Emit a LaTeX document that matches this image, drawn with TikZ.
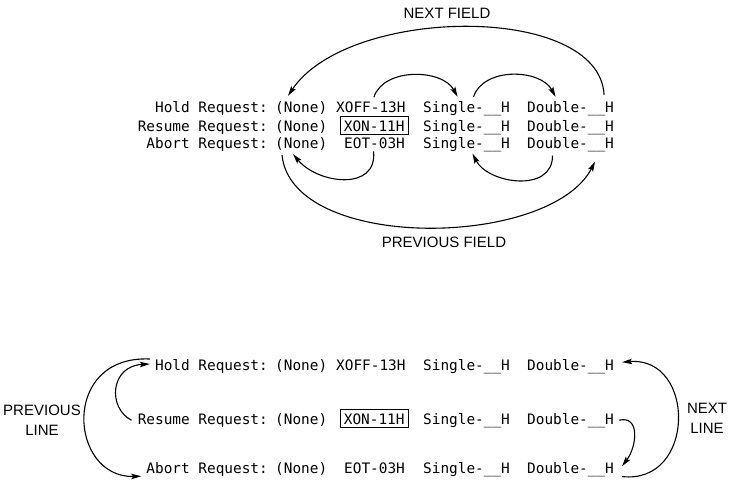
\documentclass[tikz,border=0pt]{standalone}
\usepackage{fontspec}
\setmonofont{DejaVu Sans Mono}
\setsansfont{Liberation Sans}
\usetikzlibrary{arrows.meta,calc}

\tikzset{
	field/.style={font=\ttfamily\fontsize{14.4}{17}\selectfont, inner sep=0pt, anchor=base west},
	request/.style={field, anchor=base east},
	chosen/.style={draw, line width=0.8pt, inner xsep=3.5pt, inner ysep=3.5pt},
	caption/.style={font=\sffamily\fontsize{15}{20}\selectfont, align=center, inner sep=0pt},
	arrow/.style={-{Stealth[length=10pt,width=5.5pt,inset=2pt]}, line width=1.1pt}
}

\begin{document}
\begin{tikzpicture}[x=1pt, y=-1pt]
\useasboundingbox (0,0) rectangle (732,485);

% the three request lines, once above and once below
\foreach \b/\ya/\yb/\yc in {t/112/131/148, b/370/424/473} {
	\node[request] (\b-name1) at (268,\ya) {Hold Request:};
	\node[request] (\b-name2) at (268,\yb) {Resume Request:};
	\node[request] (\b-name3) at (268,\yc) {Abort Request:};

	\node[field] (\b-none1) at (275,\ya) {(None)};
	\node[field] (\b-none2) at (275,\yb) {(None)};
	\node[field] (\b-none3) at (275,\yc) {(None)};

	\node[field] (\b-code1) at (336,\ya) {XOFF-13H};
	\node[field,chosen] (\b-code2) at (340,\yb) {XON-11H};
	\node[field] (\b-code3) at (344,\yc) {EOT-03H};

	\node[field] (\b-single1) at (423,\ya) {Single-\_\_H};
	\node[field] (\b-single2) at (423,\yb) {Single-\_\_H};
	\node[field] (\b-single3) at (423,\yc) {Single-\_\_H};

	\node[field] (\b-double1) at (527,\ya) {Double-\_\_H};
	\node[field] (\b-double2) at (527,\yb) {Double-\_\_H};
	\node[field] (\b-double3) at (527,\yc) {Double-\_\_H};
}

\node[caption] (nextfield) at (447,13) {NEXT FIELD};
\node[caption] (prevfield) at (444,242) {PREVIOUS FIELD};
\node[caption] (prevline) at (42,420) {PREVIOUS\\LINE};
\node[caption] (nextline) at (707,418) {NEXT\\LINE};

% field to field
\draw[arrow] ($(t-double1.north east)+(-10,-6)$) .. controls +(-5,-92) and +(60,-90) .. ($(t-none1.north west)+(13,-5)$);
\draw[arrow] ($(t-code1.north)+(3,-4)$) .. controls +(10,-30) and +(-15,-28) .. ($(t-single1.north)+(-9,-4)$);
\draw[arrow] ($(t-single1.north)+(7,-4)$) .. controls +(10,-30) and +(-15,-28) .. ($(t-double1.north)+(-15,-4)$);
\draw[arrow] ($(t-code3.south)+(-1,3)$) .. controls +(4,40) and +(25,30) .. ($(t-none3.south west)+(18,4)$);
\draw[arrow] ($(t-double3.south)+(-18,4)$) .. controls +(0,38) and +(15,30) .. ($(t-single3.south)+(6,2)$);
\draw[arrow] ($(t-none3.south west)+(7,5)$) .. controls +(10,97) and +(-45,87) .. ($(t-double3.south east)+(-19,10)$);

% line to line
\draw[arrow] ($(b-name2.west)+(-6,0)$) .. controls +(-24,-12) and +(-40,2) .. ($(b-name1.west)+(-5,-2)$);
\draw[arrow] ($(b-name1.west)+(-5,-7)$) .. controls +(-90,-4) and +(-72,2) .. ($(b-name3.south west)+(-5,0)$);
\draw[arrow] ($(b-double2.east)+(5,0)$) .. controls +(21,-5) and +(15,-20) .. ($(b-double3.east)+(8,-3)$);
\draw[arrow] ($(b-double3.south east)+(8,0)$) .. controls +(74,8) and +(74,-6) .. ($(b-double1.east)+(8,-4)$);

\end{tikzpicture}
\end{document}
